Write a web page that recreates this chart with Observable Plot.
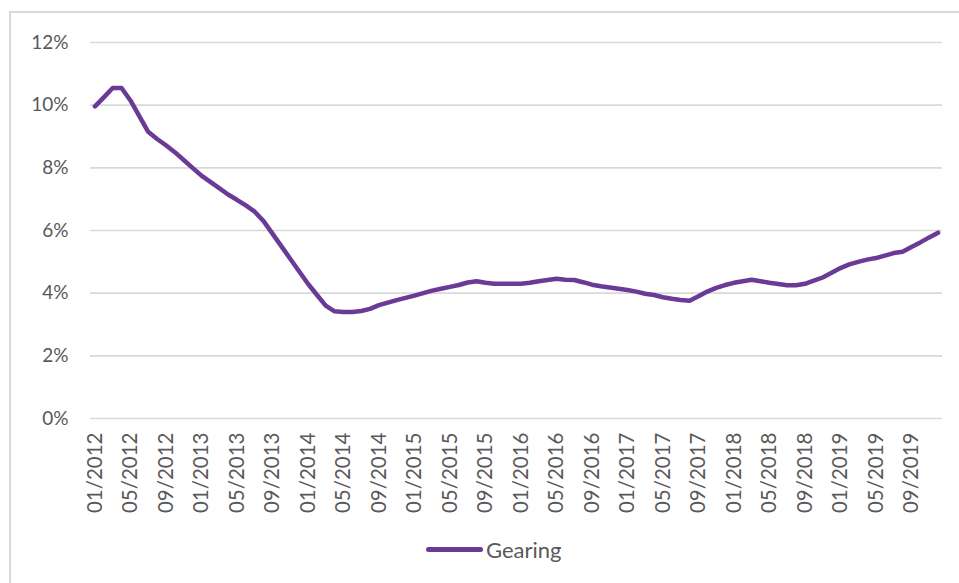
<!DOCTYPE html>
<html>
<head>
<meta charset="utf-8">
<script src="https://cdn.jsdelivr.net/npm/d3@7"></script>
<script src="https://cdn.jsdelivr.net/npm/@observablehq/plot@0.6"></script>
<style>
  html, body { margin: 0; padding: 0; background: #fff; }
  body { width: 959px; height: 583px; position: relative; overflow: hidden; font-family: Lato, "Open Sans", sans-serif; }
  #frame { position: absolute; left: 9px; top: 11px; width: 1000px; height: 700px; border-top: 2px solid #d9d9d9; border-left: 2px solid #d9d9d9; box-sizing: border-box; }
  #chart { position: absolute; left: 0; top: 0; }
  #legend { position: absolute; left: 426px; top: 536px; display: flex; align-items: center; color: #595959; font-size: 22px; }
  #legend .sw { width: 57px; height: 5px; border-radius: 3px; background: #6B3A96; margin-right: 3px; }
</style>
</head>
<body>
<div id="frame"></div>
<div id="chart"></div>
<div id="legend"><div class="sw"></div><span>Gearing</span></div>
<script>
// Monthly gearing (%) from 01/2012 to 12/2019
const startYear = 2012;
const gearing = [
  9.96, 10.25, 10.55, 10.55, 10.15, 9.65, 9.15, 8.92, 8.72, 8.5, 8.25, 8.0,
  7.75, 7.55, 7.35, 7.15, 6.98, 6.8, 6.6, 6.3, 5.9, 5.5, 5.1, 4.7,
  4.3, 3.95, 3.6, 3.42, 3.4, 3.4, 3.43, 3.5, 3.62, 3.7, 3.78, 3.85,
  3.92, 4.0, 4.08, 4.14, 4.2, 4.26, 4.34, 4.38, 4.33, 4.3, 4.3, 4.3,
  4.3, 4.33, 4.38, 4.42, 4.46, 4.43, 4.42, 4.35, 4.27, 4.22, 4.18, 4.14,
  4.1, 4.05, 3.98, 3.94, 3.87, 3.82, 3.78, 3.76, 3.9, 4.05, 4.17, 4.26,
  4.33, 4.38, 4.43, 4.38, 4.33, 4.29, 4.25, 4.25, 4.3, 4.4, 4.5, 4.65,
  4.8, 4.92, 5.0, 5.07, 5.12, 5.2, 5.28, 5.32, 5.47, 5.62, 5.78, 5.93
];
const months = gearing.map((_, i) => {
  const m = (i % 12) + 1, y = startYear + Math.floor(i / 12);
  return String(m).padStart(2, "0") + "/" + y;
});
const xTickLabels = months.filter((_, i) => i % 4 === 0);
const yTicks = [0, 2, 4, 6, 8, 10, 12];

const data = months.map((m, i) => ({month: m, value: gearing[i]}));

const chart = Plot.plot({
  width: 959,
  height: 530,
  marginLeft: 90,
  marginRight: 17,
  marginTop: 42,
  marginBottom: 112,
  style: {fontFamily: "Lato, 'Open Sans', sans-serif", fontSize: "19px", color: "#595959", background: "transparent"},
  x: {type: "point", domain: months, padding: 0.5},
  y: {domain: [0, 12]},
  marks: [
    Plot.ruleY(yTicks, {stroke: "#d9d9d9", strokeWidth: 1.6, strokeOpacity: 1}),
    Plot.axisY(yTicks, {tickSize: 0, tickPadding: 22, tickFormat: d => d + "%", label: null, fill: "#595959", fontSize: 19}),
    Plot.axisX(xTickLabels, {tickSize: 0, tickPadding: 14, tickRotate: -90, label: null, fill: "#595959", fontSize: 20.5}),
    Plot.line(data, {x: "month", y: "value", stroke: "#6B3A96", strokeWidth: 4.5, strokeLinejoin: "round", strokeLinecap: "round"})
  ]
});
document.getElementById("chart").appendChild(chart);
</script>
</body>
</html>
